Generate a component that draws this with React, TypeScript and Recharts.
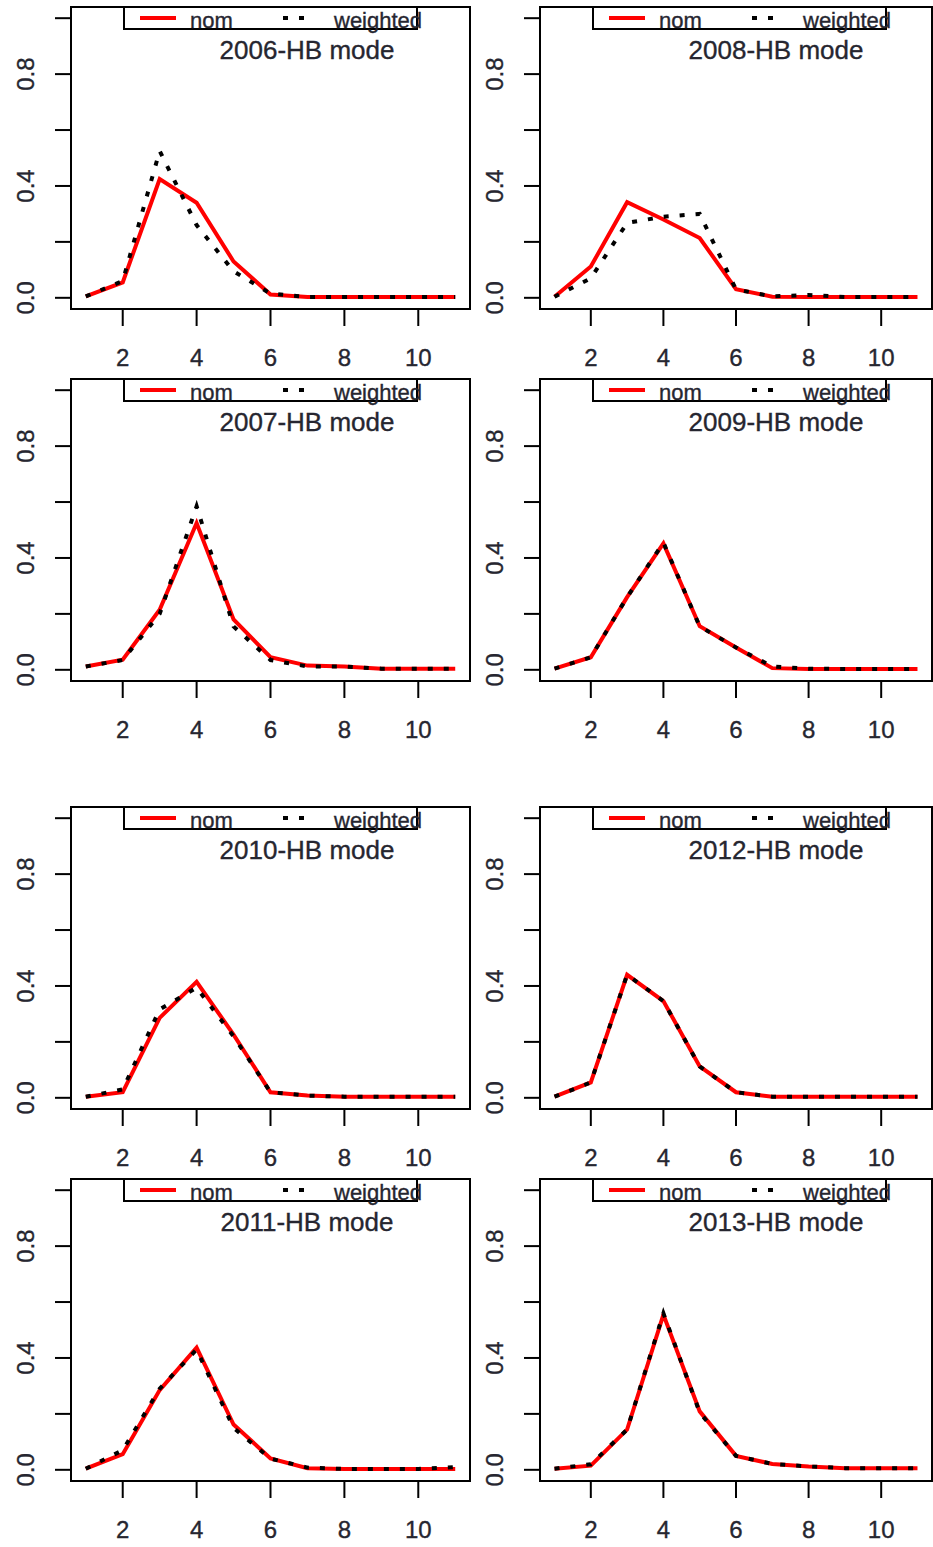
import { LineChart, Line, XAxis, YAxis, ReferenceArea } from "recharts";

const FONT = '"Liberation Sans", Arial, sans-serif';
const TEXT_COLOR = "#262630";

// x positions shared by every panel
const X_VALUES = [1, 2, 3, 4, 5, 6, 7, 8, 9, 10, 11];
const X_TICKS = [2, 4, 6, 8, 10];
const Y_TICKS = [0, 0.2, 0.4, 0.6, 0.8, 1.0];
const Y_LABELLED = [0, 0.4, 0.8];

// values, one pair per year
const NOM_2006 = [0.005, 0.055, 0.425, 0.34, 0.13, 0.012, 0.003, 0.003, 0.003, 0.003, 0.003];
const WTD_2006 = [0.005, 0.06, 0.525, 0.26, 0.095, 0.015, 0.003, 0.003, 0.003, 0.003, 0.003];
const NOM_2007 = [0.012, 0.036, 0.215, 0.525, 0.18, 0.045, 0.015, 0.012, 0.004, 0.004, 0.004];
const WTD_2007 = [0.012, 0.035, 0.2, 0.585, 0.155, 0.035, 0.012, 0.012, 0.004, 0.004, 0.004];
const NOM_2008 = [0.004, 0.112, 0.342, 0.28, 0.214, 0.031, 0.004, 0.003, 0.003, 0.003, 0.003];
const WTD_2008 = [0.004, 0.07, 0.268, 0.29, 0.3, 0.03, 0.005, 0.01, 0.003, 0.003, 0.003];
const NOM_2009 = [0.004, 0.045, 0.26, 0.452, 0.156, 0.08, 0.006, 0.003, 0.003, 0.003, 0.003];
const WTD_2009 = [0.004, 0.045, 0.26, 0.455, 0.155, 0.08, 0.012, 0.004, 0.003, 0.003, 0.003];
const NOM_2010 = [0.004, 0.02, 0.286, 0.415, 0.226, 0.02, 0.008, 0.004, 0.004, 0.004, 0.004];
const WTD_2010 = [0.004, 0.03, 0.316, 0.394, 0.22, 0.02, 0.008, 0.004, 0.004, 0.004, 0.004];
const NOM_2011 = [0.004, 0.056, 0.285, 0.437, 0.162, 0.041, 0.006, 0.003, 0.003, 0.003, 0.003];
const WTD_2011 = [0.004, 0.07, 0.29, 0.43, 0.15, 0.04, 0.008, 0.003, 0.003, 0.003, 0.01];
const NOM_2012 = [0.004, 0.055, 0.44, 0.346, 0.112, 0.02, 0.004, 0.004, 0.004, 0.004, 0.004];
const WTD_2012 = [0.004, 0.055, 0.44, 0.346, 0.112, 0.02, 0.004, 0.004, 0.004, 0.004, 0.004];
const NOM_2013 = [0.004, 0.015, 0.144, 0.555, 0.209, 0.05, 0.021, 0.012, 0.006, 0.006, 0.006];
const WTD_2013 = [0.004, 0.02, 0.144, 0.56, 0.205, 0.05, 0.021, 0.012, 0.006, 0.006, 0.006];

const PANELS = [
  { year: "2006", nom: NOM_2006, weighted: WTD_2006, col: 0, row: 0 },
  { year: "2008", nom: NOM_2008, weighted: WTD_2008, col: 1, row: 0 },
  { year: "2007", nom: NOM_2007, weighted: WTD_2007, col: 0, row: 1 },
  { year: "2009", nom: NOM_2009, weighted: WTD_2009, col: 1, row: 1 },
  { year: "2010", nom: NOM_2010, weighted: WTD_2010, col: 0, row: 2 },
  { year: "2012", nom: NOM_2012, weighted: WTD_2012, col: 1, row: 2 },
  { year: "2011", nom: NOM_2011, weighted: WTD_2011, col: 0, row: 3 },
  { year: "2013", nom: NOM_2013, weighted: WTD_2013, col: 1, row: 3 },
];

// layout
const ROW_TOPS = [0, 372, 800, 1172];
const COL_LEFTS = [0, 469];
const PLOT_WIDTHS = [399, 392];
const PLOT_LEFT = 71;
const PLOT_TOP = 7;
const PLOT_H = 302;
const XAXIS_H = 63;

const textStyle = { stroke: TEXT_COLOR, strokeWidth: 0.35 };

const renderXTick = (props: any) => (
  <text
    x={props.x}
    y={props.y}
    dy="0.72em"
    textAnchor="middle"
    fontSize={24}
    fontFamily={FONT}
    fill={TEXT_COLOR}
    style={textStyle}
  >
    {props.payload.value}
  </text>
);

const renderYTick = (props: any) => {
  const v = props.payload.value;
  if (!Y_LABELLED.some((l) => Math.abs(l - v) < 1e-9)) return <g />;
  return (
    <text
      x={props.x - 1}
      y={props.y}
      textAnchor="middle"
      fontSize={24}
      fontFamily={FONT}
      fill={TEXT_COLOR}
      style={textStyle}
      transform={`rotate(-90, ${props.x - 1}, ${props.y})`}
    >
      {Number(v).toFixed(1)}
    </text>
  );
};

function Panel({ year, nom, weighted, left, top, plotWidth }: any) {
  const data = X_VALUES.map((x, i) => ({ x, nom: nom[i], weighted: weighted[i] }));
  const width = PLOT_LEFT + plotWidth + 1;
  const height = PLOT_TOP + PLOT_H + XAXIS_H;
  return (
    <div style={{ position: "absolute", left, top, width, height }}>
      <LineChart
        width={width}
        height={height}
        data={data}
        margin={{ top: PLOT_TOP, right: 1, bottom: 0, left: 0 }}
      >
        <XAxis
          dataKey="x"
          type="number"
          domain={[0.6, 11.4]}
          ticks={X_TICKS}
          interval={0}
          allowDataOverflow
          axisLine={false}
          tickLine={{ stroke: "#000", strokeWidth: 2 }}
          tickSize={17}
          tickMargin={23}
          height={XAXIS_H}
          tick={renderXTick}
        />
        <YAxis
          type="number"
          domain={[-0.04, 1.04]}
          ticks={Y_TICKS}
          interval={0}
          allowDataOverflow
          axisLine={false}
          tickLine={{ stroke: "#000", strokeWidth: 2 }}
          tickSize={16}
          tickMargin={20}
          width={PLOT_LEFT}
          tick={renderYTick}
        />
        <ReferenceArea
          x1={0.6}
          x2={11.4}
          y1={-0.04}
          y2={1.04}
          fill="none"
          stroke="#000"
          strokeWidth={2}
          ifOverflow="visible"
        />
        <Line
          type="linear"
          dataKey="nom"
          stroke="#ff0000"
          strokeWidth={4}
          dot={false}
          isAnimationActive={false}
        />
        <Line
          type="linear"
          dataKey="weighted"
          stroke="#000"
          strokeWidth={4}
          strokeDasharray="5 11"
          dot={false}
          isAnimationActive={false}
        />
      </LineChart>
      <svg
        width={width}
        height={height}
        style={{ position: "absolute", left: 0, top: 0, pointerEvents: "none" }}
      >
        <rect x={124} y={7} width={293} height={22} fill="#fff" stroke="#000" strokeWidth={2} />
        <line x1={140} x2={176} y1={18} y2={18} stroke="#ff0000" strokeWidth={4} />
        <line x1={283} x2={304} y1={18} y2={18} stroke="#000" strokeWidth={4} strokeDasharray="5 11" />
        <text x={190} y={28} fontSize={22} fontFamily={FONT} fill={TEXT_COLOR} style={textStyle}>
          nom
        </text>
        <text x={334} y={28} fontSize={22} fontFamily={FONT} fill={TEXT_COLOR} style={textStyle}>
          weighted
        </text>
        <text
          x={307}
          y={59}
          textAnchor="middle"
          fontSize={26}
          fontFamily={FONT}
          fill={TEXT_COLOR}
          style={textStyle}
        >
          {year}-HB mode
        </text>
      </svg>
    </div>
  );
}

export default function App() {
  return (
    <div
      style={{
        position: "absolute",
        left: 0,
        top: 0,
        width: 933,
        height: 1547,
        overflow: "hidden",
        background: "#fff",
      }}
    >
      {PANELS.map((p) => (
        <Panel
          key={p.year}
          year={p.year}
          nom={p.nom}
          weighted={p.weighted}
          left={COL_LEFTS[p.col]}
          top={ROW_TOPS[p.row]}
          plotWidth={PLOT_WIDTHS[p.col]}
        />
      ))}
    </div>
  );
}
